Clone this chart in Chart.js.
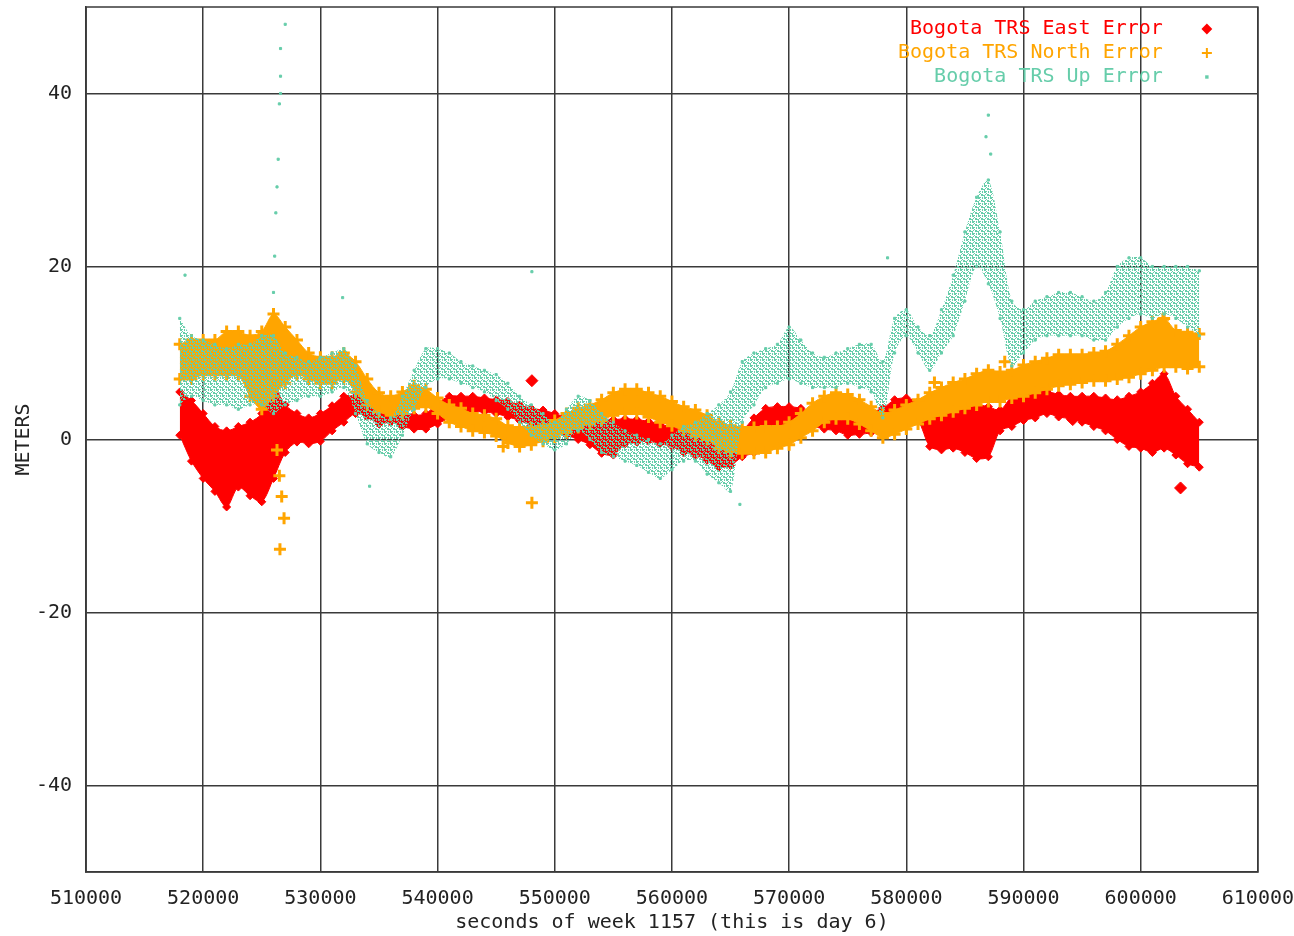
<!DOCTYPE html>
<html lang="en">
<head>
  <meta charset="UTF-8" />
  <title>Bogota TRS Error</title>
  <script src="https://cdn.jsdelivr.net/npm/chart.js"></script>
  <style>
    html, body { margin: 0; padding: 0; background: #fff; overflow: hidden; }
    canvas { display: block; }
  </style>
</head>
<body>
  <canvas id="grafica" width="1294" height="936"></canvas>

  <script>
    // seconds of week (thousands), one sample every 1000 s
    const secsK = [518,519,520,521,522,523,524,525,526,527,
                   528,529,530,531,532,533,534,535,536,537,
                   538,539,540,541,542,543,544,545,546,547,
                   548,549,550,551,552,553,554,555,556,557,
                   558,559,560,561,562,563,564,565,566,567,
                   568,569,570,571,572,573,574,575,576,577,
                   578,579,580,581,582,583,584,585,586,587,
                   588,589,590,591,592,593,594,595,596,597,
                   598,599,600,601,602,603,604,605];

    // East error band (upper / lower edge, meters)
    const eastHi = [5.5,4.5,3.0,1.5,1.0,1.5,2.0,3.0,6.0,4.0,
                    3.0,2.5,3.0,3.9,5.0,5.0,4.6,3.6,3.4,3.0,
                    2.8,3.0,4.2,5.0,5.0,5.0,4.8,4.6,4.4,4.0,
                    3.6,3.4,3.0,2.6,2.6,2.4,2.4,2.3,2.4,2.3,
                    2.1,1.8,1.4,1.2,1.0,0.8,0.5,0.2,1.0,2.5,
                    3.6,3.8,3.8,3.6,3.0,2.6,3.0,3.0,2.8,3.2,
                    3.6,4.6,4.8,4.4,4.0,4.0,3.8,3.8,4.0,3.8,
                    3.4,5.0,5.8,5.8,5.6,5.2,5.0,5.0,5.0,4.8,
                    4.6,5.0,5.5,6.5,7.6,5.0,3.5,2.0];
    const eastLo = [0.5,-2.5,-4.5,-6.0,-7.8,-5.5,-6.5,-7.2,-4.5,-1.5,
                    -0.3,-0.5,-0.2,1.0,2.0,3.0,2.6,1.8,2.0,1.5,
                    1.2,1.2,1.8,2.5,3.0,3.2,3.2,3.0,2.6,2.2,
                    1.6,1.2,0.8,0.5,0.0,-0.6,-1.6,-1.8,-0.5,-0.3,
                    -0.2,-0.5,-0.8,-1.5,-1.8,-2.4,-3.2,-3.0,-2.0,-1.5,
                    0.0,0.8,1.2,1.4,1.5,1.2,1.0,0.5,0.6,0.8,
                    1.4,2.4,2.8,2.2,-0.8,-1.2,-1.0,-1.5,-2.2,-2.0,
                    1.0,1.5,2.2,2.5,3.0,2.6,2.4,2.0,1.5,1.0,
                    0.0,-0.8,-1.0,-1.5,-1.0,-1.8,-2.8,-3.2];
    const eastOutX = [548050, 594200, 603400];
    const eastOutY = [6.8, 2.3, -5.6];

    // North error band
    const northHi = [11,11.5,11.5,11.5,12.5,12.5,12.0,12.5,14.5,13.0,
                     11.5,10.0,9.5,9.5,10.0,9.0,7.0,5.4,5.0,5.5,
                     6.2,5.8,4.8,4.0,3.6,3.0,2.8,2.4,1.6,1.4,
                     1.4,1.6,2.2,3.0,3.6,4.0,4.6,5.4,5.8,5.8,
                     5.4,5.0,4.4,3.8,3.4,2.8,2.0,1.6,1.4,1.4,
                     1.5,1.5,2.0,3.0,4.2,5.0,5.4,5.2,4.6,3.8,
                     3.0,3.4,4.0,4.6,5.4,6.0,6.6,7.0,7.6,8.0,
                     7.8,8.0,8.6,9.0,9.4,9.8,9.8,9.8,10.0,10.2,
                     11.0,12.0,13.0,13.6,14.0,12.6,12.4,12.2];
    const northLo = [7,7,7.5,7.5,7.5,7.5,5.0,3.5,5.0,6.5,
                     7.5,7.0,6.5,6.5,7.0,5.5,4.0,3.2,2.8,3.0,
                     3.6,3.8,3.0,2.0,1.5,1.0,0.8,0.4,-0.4,-0.8,
                     -0.6,-0.2,0.3,0.8,1.4,1.8,2.2,2.8,3.0,3.0,
                     2.6,2.0,1.6,1.0,0.4,0.0,-1.0,-1.4,-1.6,-1.6,
                     -1.5,-1.0,-0.6,0.2,1.0,2.0,2.4,2.4,1.8,1.0,
                     0.2,0.6,1.2,1.8,2.4,2.8,3.2,3.6,4.0,4.4,
                     4.4,4.8,5.0,5.4,5.8,6.2,6.4,6.6,6.8,6.8,
                     7.0,7.2,7.6,8.0,8.4,8.4,8.2,8.4];
    const northOutX = [526300, 526500, 526700, 526900, 526550, 548050, 545600, 582400, 588400, 601900];
    const northOutY = [-1.2, -4.2, -6.6, -9.1, -12.7, -7.3, -0.8, 6.6, 9.0, 13.9];

    // Up error band
    const upHi = [14,12,11.5,11,10.5,11,11,12,12,10,
                  9.5,9,9.5,10,10.5,8.5,4.5,3.0,2.5,5.0,
                  8.0,10.5,10.5,10,9,8.5,8,7.5,6.5,5,
                  4,3,2,3.5,5,4.5,3,2,1,0.5,
                  0,-0.5,0.5,1.5,2,3,4,5.5,9,10,
                  10.5,11,13,11.5,10,9.5,10,10.5,11,11,
                  9,14,15,13,12,15,19,24,28,30,
                  24,16,15,16,16.5,17,17,16.5,16,17,
                  20,21,21,20,20,20,20,19.5];
    const upLo = [4,5,4.5,4,4,3.5,4,4,3,4,
                  4.5,5,5,5.5,6,3,-0.5,-1.5,-2,0.5,
                  3.5,6,7,7,6.5,6,5.5,4.5,3.5,2,
                  0.5,-0.5,-1.2,-0.5,1,0,-1.5,-2,-2.5,-3,
                  -3.8,-4.5,-3.5,-2.5,-2.5,-4,-5,-6,2,4,
                  6,6.5,7,6.5,6,6,6,6.5,6,5.5,
                  2.5,10,12,10,8,10,12,16,20,18,
                  14,8.5,10,11.5,12,12,12,12,11.5,11.5,
                  13,14,14.5,14,14.5,14,13,12];
    const upOutX = [518450, 526000, 526100, 526200, 526300, 526400, 526500, 526600, 526600, 526600,
                    527000, 531900, 548050, 578400, 534200, 565800, 587000, 586800, 587200];
    const upOutY = [19, 17, 21.2, 26.2, 29.2, 32.4, 38.8, 40, 42, 45.2,
                    48, 16.4, 19.4, 21, -5.4, -7.5, 37.5, 35, 33];

    const seriesNames = ['Bogota TRS East Error', 'Bogota TRS North Error', 'Bogota TRS Up Error'];
    const yTicks = [-40, -20, 0, 20, 40];

    const red = '#ff0000', orange = '#ffa500', teal = '#66cdaa';
    const fuente = { family: '"DejaVu Sans Mono", monospace', size: 20 };
    const gris = '#3a3a3a';

    const canvas = document.getElementById('grafica');
    const pts = (xs, ys) => ys.map((y, i) => ({ x: xs[i], y }));
    const xs = secsK.map(k => k * 1000);

    // speckle texture for the sparse Up cloud
    function motas(color) {
      const c = document.createElement('canvas');
      c.width = 6; c.height = 6;
      const g = c.getContext('2d');
      g.fillStyle = color;
      [[0, 0, 2, 2], [3, 3, 2, 2], [4, 0, 1, 2], [0, 4, 1, 2], [2, 2, 1, 1],
       [2, 0, 1, 1], [5, 4, 1, 1], [1, 3, 1, 1]].forEach(r => g.fillRect(...r));
      return canvas.getContext('2d').createPattern(c, 'repeat');
    }

    function banda(hi, lo, color, fillColor, style, r, bw, lw, orden) {
      const comun = {
        borderColor: color, backgroundColor: color, pointBackgroundColor: color,
        pointBorderColor: color, pointStyle: style, pointRadius: r, pointBorderWidth: bw,
        borderWidth: lw, tension: 0.3, order: orden
      };
      return [
        Object.assign({ data: pts(xs, hi), fill: false }, comun),
        Object.assign({ data: pts(xs, lo), fill: '-1' }, comun, { backgroundColor: fillColor })
      ];
    }
    function sueltos(ox, oy, color, style, r, bw, orden) {
      return {
        data: pts(ox, oy), showLine: false, pointStyle: style, pointRadius: r, pointBorderWidth: bw,
        pointBackgroundColor: color, pointBorderColor: color, borderColor: color, order: orden
      };
    }

    const marco = {
      id: 'marco',
      afterDatasetsDraw(chart) {
        const { ctx, chartArea: a } = chart;
        ctx.save();
        ctx.strokeStyle = gris;
        ctx.lineWidth = 1.5;
        ctx.strokeRect(a.left, a.top, a.right - a.left, a.bottom - a.top);
        ctx.restore();
      }
    };

    const clave = {
      id: 'clave',
      afterDraw(chart) {
        const { ctx, chartArea: a } = chart;
        const colores = [red, orange, teal];
        const estilos = ['rectRot', 'cross', 'rect'];
        const radios = [4, 5, 1];
        ctx.save();
        ctx.font = '20px "DejaVu Sans Mono", monospace';
        ctx.textAlign = 'right';
        ctx.textBaseline = 'middle';
        seriesNames.forEach((nombre, i) => {
          const y = a.top + 22 + i * 24;
          ctx.fillStyle = colores[i];
          ctx.fillText(nombre, a.right - 95, y);
          ctx.strokeStyle = colores[i];
          ctx.lineWidth = 2;
          Chart.helpers.drawPoint(ctx, { pointStyle: estilos[i], radius: radios[i], borderWidth: 2 }, a.right - 51, y);
        });
        ctx.restore();
      }
    };

    function config() {
      const datasets = [
        ...banda(eastHi, eastLo, red, red, 'rectRot', 4, 1, 1, 3),
        sueltos(eastOutX, eastOutY, red, 'rectRot', 6, 1, 3),
        ...banda(northHi, northLo, orange, orange, 'cross', 6, 3, 1, 2),
        sueltos(northOutX, northOutY, orange, 'cross', 6, 3, 2),
        ...banda(upHi, upLo, teal, motas(teal), 'rect', 1.5, 1, 0, 1),
        sueltos(upOutX, upOutY, teal, 'rect', 1.5, 1, 1)
      ];
      return {
        type: 'line',
        data: { datasets },
        options: {
          responsive: false,
          animation: false,
          layout: { padding: 0 },
          plugins: { legend: { display: false }, tooltip: { enabled: false } },
          scales: {
            x: {
              type: 'linear', min: 510000, max: 610000,
              ticks: { stepSize: 10000, padding: 15, maxRotation: 0, autoSkip: false,
                       font: fuente, color: '#222', callback: v => String(v) },
              grid: { color: gris, lineWidth: 1.5, drawTicks: false },
              border: { color: gris, width: 1.5 },
              title: { display: true, text: 'seconds of week 1157 (this is day 6)', font: fuente,
                       color: '#222', padding: { top: 0, bottom: 1 } },
              afterFit: s => { s.height = 64; }
            },
            y: {
              min: -50, max: 50,
              afterBuildTicks: s => { s.ticks = yTicks.map(v => ({ value: v })); },
              ticks: { padding: 14, font: fuente, color: '#222' },
              grid: { color: gris, lineWidth: 1.5, drawTicks: false },
              border: { color: gris, width: 1.5 },
              title: { display: true, text: 'METERS', font: fuente, color: '#222', padding: { top: 12, bottom: 0 } },
              afterFit: s => { s.width = 86; }
            }
          }
        },
        plugins: [marco, clave]
      };
    }

    // plot frame must sit at x 86..1258, y 7..872: grow the canvas by the automatic label padding
    let chart = new Chart(canvas.getContext('2d'), config());
    const area = chart.chartArea;
    const dTop = Math.round(area.top - 7);
    const dRight = Math.round(1258 - area.right);
    if (dTop !== 0 || dRight !== 0) {
      chart.destroy();
      canvas.width = 1294 + dRight;
      canvas.height = 936 + dTop;
      canvas.style.marginTop = (-dTop) + 'px';
      chart = new Chart(canvas.getContext('2d'), config());
    }
  </script>
</body>
</html>
